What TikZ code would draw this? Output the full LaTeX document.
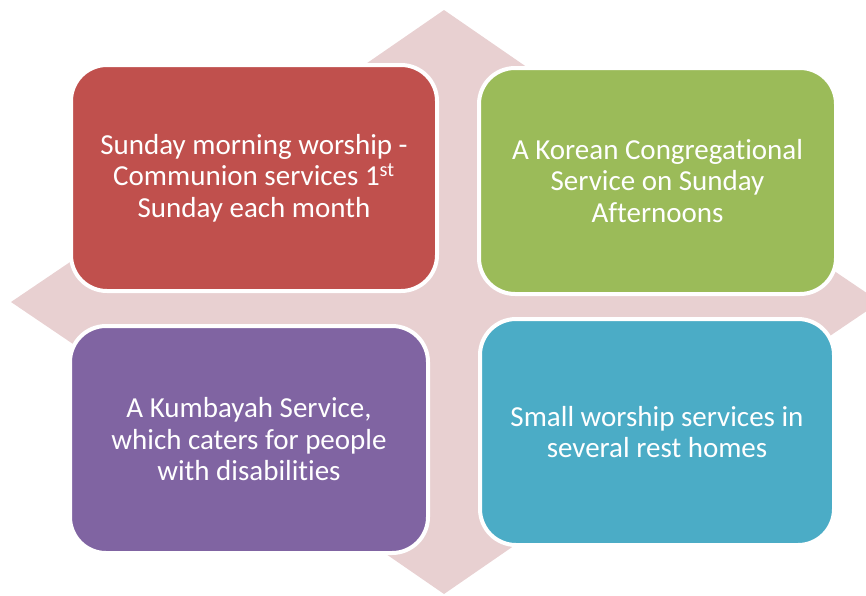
\documentclass[tikz,border=0pt]{standalone}
\usepackage{fontspec}
\setmainfont{Carlito}[Ligatures=NoCommon]
\definecolor{crosspink}{HTML}{E8D0D1}
\definecolor{boxred}{HTML}{C0504D}
\definecolor{boxgreen}{HTML}{9BBB59}
\definecolor{boxpurple}{HTML}{8064A2}
\definecolor{boxblue}{HTML}{4BACC6}
\begin{document}
\begin{tikzpicture}[x=1pt,y=-1pt,
  card/.style={rectangle, rounded corners=36pt, draw=white, line width=4pt,
    text=white, align=center, font=\fontsize{29}{31.5}\selectfont,
    inner sep=0pt}]
\useasboundingbox (0,0) rectangle (866,595);
\clip (0,0) rectangle (866,595);
% four-way arrow
\fill[crosspink] (444,10) -- (589,110) -- (504,110) -- (504,257) -- (750,257) -- (750,214)
  -- (880,302) -- (750,390) -- (750,347) -- (504,347) -- (504,494) -- (589,494)
  -- (444,594) -- (299,494) -- (384,494) -- (384,347) -- (141,347) -- (141,390)
  -- (11,302) -- (141,214) -- (141,257) -- (384,257) -- (384,110) -- (299,110) -- cycle;
% boxes
\node[card, fill=boxred, minimum width=366pt, minimum height=226pt] (red) at (254,178)
  {Sunday morning worship -\\Communion services 1\textsuperscript{st}\\Sunday each month};
\node[card, fill=boxgreen, minimum width=357pt, minimum height=226pt] (green) at (657.5,181)
  {A Korean Congregational\\Service on Sunday\\Afternoons};
\node[card, fill=boxpurple, minimum width=358pt, minimum height=227pt] (purple) at (249,439.5)
  {A Kumbayah Service,\\which caters for people\\with disabilities};
\node[card, fill=boxblue, minimum width=354pt, minimum height=226pt] (blue) at (657,432)
  {Small worship services in\\several rest homes};
\end{tikzpicture}
\end{document}
